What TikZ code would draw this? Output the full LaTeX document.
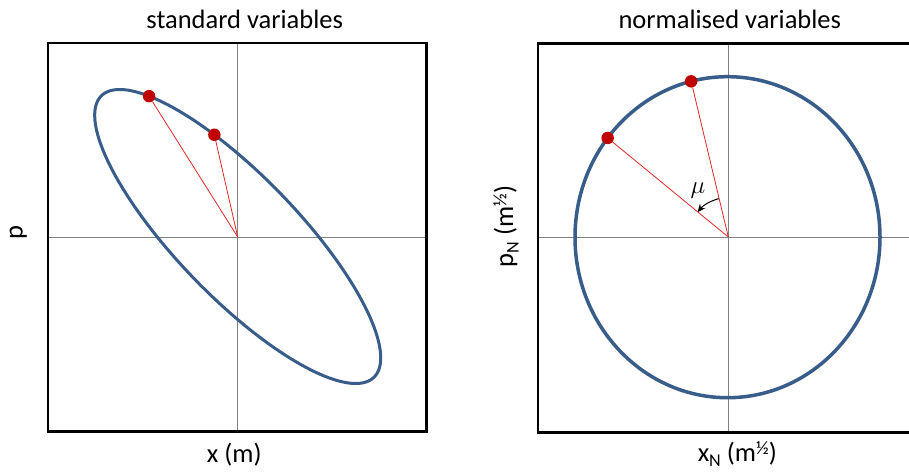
\documentclass[tikz,border=0pt]{standalone}
\usepackage{fontspec}
\setmainfont{Carlito}
\usetikzlibrary{arrows.meta}
\definecolor{curveblue}{RGB}{56,93,138}
\definecolor{dotred}{RGB}{192,0,0}
\definecolor{linered}{RGB}{228,40,40}
\definecolor{axisgray}{RGB}{128,128,128}
\newcommand{\subN}{\raisebox{-0.2em}{\fontsize{18}{18}\selectfont N}}
\newcommand{\suphalf}{\raisebox{0.26em}{\fontsize{19}{19}\selectfont ½}}
\tikzset{
  frame/.style={draw=black, line width=2.8pt},
  axisline/.style={draw=axisgray, line width=1pt},
  orbit/.style={draw=curveblue, line width=3pt},
  radial/.style={draw=linered, line width=0.8pt},
  dot/.style={circle, fill=dotred, inner sep=0pt, minimum size=12.5pt},
  title/.style={font=\fontsize{26.5}{30}\selectfont, anchor=base},
  axlabel/.style={font=\fontsize{26.5}{30}\selectfont},
  angarrow/.style={draw=black, line width=1pt, -{Stealth[length=8pt,width=7pt]}}
}
\begin{document}
\begin{tikzpicture}[x=1pt,y=-1pt]
\clip (0,0) rectangle (909,471);
\fill[white] (0,0) rectangle (909,471);
% ---------- left panel ----------
\coordinate (L1) at (48,43);
\coordinate (L2) at (426.3,431.3);
\coordinate (Lo) at (237.7,237);
\coordinate (Ltop) at (237.7,43);
\coordinate (Lbot) at (237.7,431.3);
\coordinate (Llft) at (48,237);
\coordinate (Lrgt) at (426.3,237);
\draw[axisline] (Ltop) -- (Lbot);
\draw[axisline] (Llft) -- (Lrgt);
\draw[orbit] plot[domain=0:360, samples=240, smooth cycle, variable=\t]
  ({237.7+143*cos(\t)},{236.5-147*cos(\t-145.6)});
\node[dot] (La) at ({237.7+143*cos(128.3)},{236.5-147*cos(128.3-145.6)}) {};
\node[dot] (Lb) at ({237.7+143*cos(99.4)},{236.5-147*cos(99.4-145.6)}) {};
\draw[radial] (Lo) -- (La);
\draw[radial] (Lo) -- (Lb);
\draw[frame] (L1) rectangle (L2);
\node[title] (Ltitle) at (244.7,28) {standard variables};
\node[axlabel, anchor=base] (Lx) at (234.2,462.5) {x (m)};
\node[axlabel, rotate=90] (Lp) at (18.3,232.2) {p};
% ---------- right panel ----------
\coordinate (R1) at (538,43.7);
\coordinate (R2) at (930,432.3);
\coordinate (Ro) at (728.3,237);
\coordinate (Rtop) at (728.3,43.7);
\coordinate (Rbot) at (728.3,432.3);
\coordinate (Rlft) at (538,237);
\coordinate (Rrgt) at (930,237);
\coordinate (Rc) at (727.5,237.2);
\draw[axisline] (Rtop) -- (Rbot);
\draw[axisline] (Rlft) -- (Rrgt);
\draw[orbit, line width=3.5pt] (Rc) ellipse[x radius=152.5, y radius=160.5];
\node[dot] (Ra) at ({727.5+152.5*cos(103.8)},{237.2-160.5*sin(103.8)}) {};
\node[dot] (Rb) at ({727.5+152.5*cos(141.8)},{237.2-160.5*sin(141.8)}) {};
\draw[radial] (Ro) -- (Ra);
\draw[radial] (Ro) -- (Rb);
\coordinate (Rarc) at ({728.3+39.5*cos(104)},{237-39.5*sin(104)});
\draw[angarrow] (Rarc) arc[start angle=-104, end angle=-141, radius=39.5];
\node[font=\fontsize{25}{25}\selectfont, anchor=base] (mu) at (698,193.5) {$\mu$};
\draw[frame] (R1) rectangle (R2);
\node[title] (Rtitle) at (729.8,28) {normalised variables};
\node[axlabel, anchor=base] (Rx) at (737.3,461.5) {x\subN\ (m\suphalf)};
\node[axlabel, rotate=90] (Rp) at (506,226.5) {p\subN\ (m\suphalf)};
\end{tikzpicture}
\end{document}
